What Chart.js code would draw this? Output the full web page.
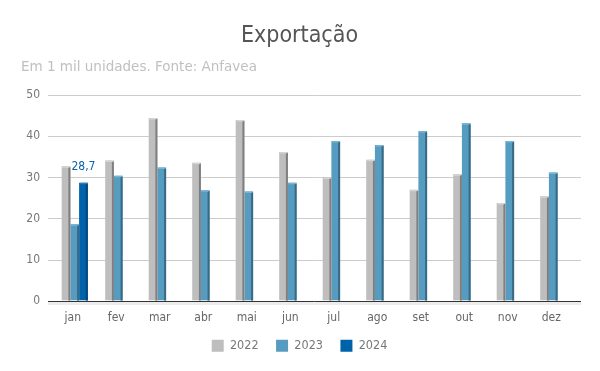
<!DOCTYPE html>
<html>
<head>
<meta charset="utf-8">
<script src="https://cdn.jsdelivr.net/npm/chart.js@4.4.1/dist/chart.umd.min.js"></script>
<style>
html,body{margin:0;padding:0;background:#fff;}
#wrap{width:600px;height:371px;position:relative;}
</style>
</head>
<body>
<div id="wrap"><canvas id="c" width="600" height="371"></canvas></div>
<script>
const categories = ['jan','fev','mar','abr','mai','jun','jul','ago','set','out','nov','dez'];
const series2022 = [32.7, 34.1, 44.5, 33.6, 44.0, 36.2, 30.0, 34.3, 27.0, 30.8, 23.8, 25.4];
const series2023 = [18.6, 30.4, 32.4, 26.9, 26.6, 28.7, 38.9, 37.9, 41.3, 43.2, 38.9, 31.2];
const series2024 = [28.7, null, null, null, null, null, null, null, null, null, null, null];
const yTicks = [0, 10, 20, 30, 40, 50];

const FONT = "'DejaVu Sans Condensed', 'DejaVu Sans', sans-serif";
const FONT_SUB = "'DejaVu Sans', sans-serif";

const sideColors = ['#7f7f7f', '#3a6a83', '#00467c'];
const topColors = ['#d4d4d4', '#7ab4d2', '#2a7fc0'];

const threeD = {
  id: 'threeD',
  beforeDatasetsDraw(chart) {
    const {ctx, chartArea, scales: {y}} = chart;
    ctx.save();
    yTicks.forEach(v => {
      const py = Math.round(y.getPixelForValue(v)) + 0.5;
      ctx.beginPath();
      ctx.strokeStyle = '#cccccc';
      ctx.lineWidth = 1;
      ctx.moveTo(chartArea.left - 5, py);
      ctx.lineTo(chartArea.right + 6, py);
      ctx.stroke();
    });
    const p0 = Math.round(y.getPixelForValue(0));
    ctx.fillStyle = '#ececec';
    ctx.fillRect(chartArea.left - 5, p0 + 1, chartArea.right + 11 - chartArea.left, 3);
    ctx.restore();
  },
  afterDatasetsDraw(chart) {
    const {ctx, scales: {y}} = chart;
    ctx.save();
    chart.data.datasets.forEach((ds, di) => {
      const meta = chart.getDatasetMeta(di);
      meta.data.forEach((bar, i) => {
        if (ds.data[i] == null) return;
        const {x, y: top, base, width} = bar.getProps(['x','y','base','width'], true);
        const right = x + width / 2;
        const left = x - width / 2;
        ctx.fillStyle = sideColors[di];
        ctx.fillRect(right - 2, top + 1, 2, base - top - 1);
        ctx.fillStyle = topColors[di];
        ctx.beginPath();
        ctx.moveTo(left, top + 1.5);
        ctx.lineTo(left + 1.5, top);
        ctx.lineTo(right, top);
        ctx.lineTo(right - 1.5, top + 1.5);
        ctx.closePath();
        ctx.fill();
      });
    });
    const p0 = Math.round(y.getPixelForValue(0)) + 0.5;
    ctx.beginPath();
    ctx.strokeStyle = '#333333';
    ctx.lineWidth = 1;
    ctx.moveTo(chart.chartArea.left - 5, p0);
    ctx.lineTo(chart.chartArea.right + 6, p0);
    ctx.stroke();
    const meta = chart.getDatasetMeta(2);
    series2024.forEach((v, i) => {
      if (v == null) return;
      const bar = meta.data[i];
      ctx.fillStyle = '#0a64ad';
      ctx.font = "12px " + FONT;
      ctx.textAlign = 'center';
      ctx.textBaseline = 'bottom';
      ctx.fillText(String(v).replace('.', ','), bar.x, bar.y - 10);
    });
    ctx.restore();
  }
};

new Chart(document.getElementById('c'), {
  type: 'bar',
  data: {
    labels: categories,
    datasets: [
      {label: '2022', data: series2022, backgroundColor: '#bebebe'},
      {label: '2023', data: series2023, backgroundColor: '#569cc0'},
      {label: '2024', data: series2024, backgroundColor: '#0062a8'}
    ]
  },
  options: {
    responsive: false,
    animation: false,
    devicePixelRatio: 1,
    layout: {padding: {left: 21, right: 22, top: 0, bottom: 9}},
    datasets: {bar: {categoryPercentage: 0.6, barPercentage: 1.0, borderWidth: 0}},
    plugins: {
      title: {
        display: true,
        text: 'Exportação',
        color: '#555555',
        font: {family: FONT, size: 23, weight: 'normal'},
        padding: {top: 22, bottom: 5}
      },
      subtitle: {
        display: true,
        text: 'Em 1 mil unidades. Fonte: Anfavea',
        align: 'start',
        color: '#c0c0c0',
        font: {family: FONT_SUB, size: 13.5, weight: 'normal'},
        padding: {top: 5, bottom: 19.5}
      },
      legend: {
        position: 'bottom',
        labels: {
          boxWidth: 12, boxHeight: 12, padding: 17.5,
          color: '#777777',
          font: {family: FONT, size: 12.5}
        }
      },
      tooltip: {enabled: false}
    },
    scales: {
      x: {
        afterFit(scale) {
          scale.height -= 13;
          scale._computeLabelArea = () => undefined;
        },
        grid: {display: false, drawTicks: false},
        border: {display: false},
        ticks: {color: '#666666', font: {family: FONT, size: 12}, padding: 10, labelOffset: -2}
      },
      y: {
        min: 0, max: 50,
        afterFit(scale) { scale.width = 32; },
        afterBuildTicks(scale) { scale.ticks = yTicks.map(v => ({value: v})); },
        grid: {display: false, drawTicks: false},
        border: {display: false},
        ticks: {color: '#777777', font: {family: FONT, size: 12}, padding: 13}
      },
      yRight: {
        position: 'right',
        min: 0, max: 50,
        afterFit(scale) { scale.width = 3; },
        grid: {display: false, drawTicks: false},
        border: {display: false},
        ticks: {display: false}
      }
    }
  },
  plugins: [threeD]
});
</script>
</body>
</html>
